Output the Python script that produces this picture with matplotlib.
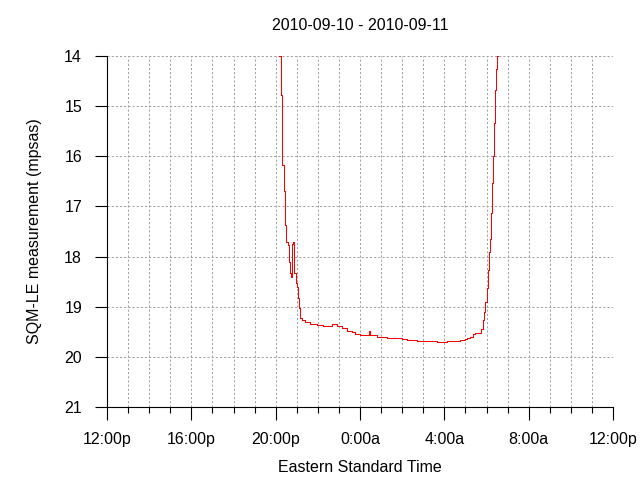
"""SQM-LE night sky brightness, 2010-09-10 to 2010-09-11."""

import matplotlib
matplotlib.use("Agg")
import matplotlib.pyplot as plt
from matplotlib.ticker import MultipleLocator

plt.rcParams["font.family"] = ["Liberation Sans", "DejaVu Sans"]
plt.rcParams["lines.scale_dashes"] = False

# hours on a noon-to-noon clock (24 = midnight)
hours = [20.10, 20.16, 20.24, 20.24, 20.29, 20.32, 20.38, 20.44, 20.46, 20.51,
         20.59, 20.62, 20.67, 20.71, 20.76, 20.79, 20.84, 20.87, 20.89, 20.95,
         21.01, 21.06, 21.09, 21.14, 21.24, 21.39, 21.63, 21.95, 22.26, 22.50,
         22.66, 22.90, 23.13, 23.37, 23.61, 23.76, 24.00, 24.32, 24.42, 24.44,
         24.46, 24.79, 25.27, 25.58, 25.98, 26.22, 26.69, 27.17, 27.64, 28.11,
         28.43, 28.75, 28.98, 29.06, 29.22, 29.35, 29.46, 29.61, 29.74, 29.82,
         29.90, 29.94, 30.01, 30.07, 30.11, 30.15, 30.20, 30.25, 30.30, 30.34,
         30.39, 30.45, 30.49, 30.55]
mpsas = [13.50, 14.00, 14.08, 14.78, 15.48, 16.17, 16.70, 17.00, 17.37, 17.70,
         17.77, 18.10, 18.33, 18.40, 18.10, 17.74, 17.70, 17.80, 18.33, 18.53,
         18.60, 18.83, 19.03, 19.23, 19.27, 19.31, 19.34, 19.36, 19.38, 19.38,
         19.35, 19.39, 19.43, 19.48, 19.51, 19.55, 19.56, 19.57, 19.57, 19.49,
         19.57, 19.60, 19.62, 19.63, 19.64, 19.66, 19.68, 19.69, 19.70, 19.69,
         19.68, 19.67, 19.65, 19.62, 19.60, 19.55, 19.52, 19.52, 19.45, 19.27,
         19.10, 18.90, 18.63, 18.27, 17.90, 17.64, 17.14, 16.54, 16.00, 15.34,
         14.68, 14.25, 14.00, 13.50]

tick_hours = [12, 16, 20, 24, 28, 32, 36]
tick_labels = ["12:00p", "16:00p", "20:00p", "0:00a", "4:00a", "8:00a", "12:00p"]
y_ticks = [14, 15, 16, 17, 18, 19, 20, 21]

fig = plt.figure(figsize=(6.4, 4.8), dpi=100)
ax = fig.add_axes([107 / 640, 1 - 407 / 480, 506 / 640, 351 / 480])

ax.plot(hours, mpsas, color="#ff0000", linewidth=0.72, antialiased=False,
        drawstyle="steps-post")

ax.set_xlim(12, 36)
ax.set_ylim(21, 14)
ax.set_xticks(tick_hours)
ax.set_xticklabels(tick_labels)
ax.xaxis.set_minor_locator(MultipleLocator(1))
ax.set_yticks(y_ticks)

ax.grid(which="both", axis="x", color="#a0a0a0", linestyle=(0, (1.5, 1.5)),
        linewidth=0.72)
ax.grid(which="major", axis="y", color="#a0a0a0", linestyle=(0, (1.5, 1.5)),
        linewidth=0.72)
ax.set_axisbelow(True)

for side in ("top", "right"):
    ax.spines[side].set_visible(False)
for side in ("left", "bottom"):
    ax.spines[side].set_linewidth(0.8)

ax.tick_params(which="major", length=9, width=0.8, pad=9, labelsize=11.5,
               colors="black", direction="out")
ax.tick_params(which="minor", length=4, width=0.8, direction="out")

ax.set_title("2010-09-10 - 2010-09-11", fontsize=11.5, pad=19)
ax.set_xlabel("Eastern Standard Time", fontsize=11.5, labelpad=9)
ax.set_ylabel("SQM-LE measurement (mpsas)", fontsize=11.5, labelpad=16)

fig.savefig("out.png", dpi=100)
